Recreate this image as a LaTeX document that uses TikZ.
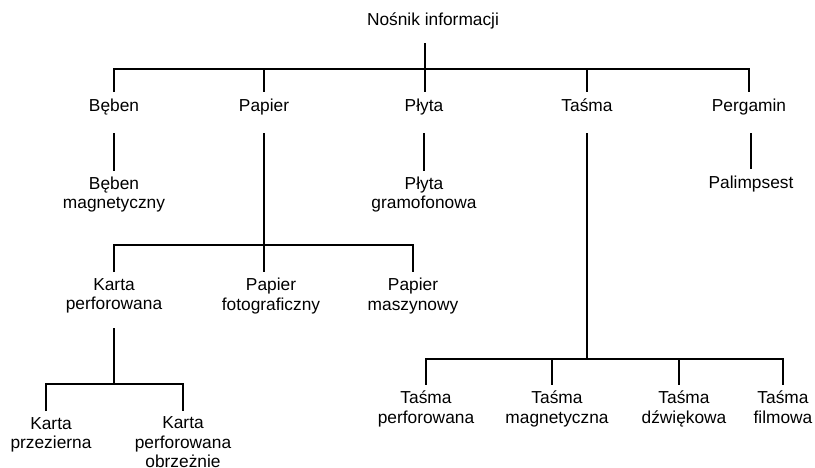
\documentclass[tikz,border=0pt]{standalone}
\usepackage{fontspec}
\setmainfont{Liberation Sans}
\begin{document}
\begin{tikzpicture}[x=0.75pt,y=-0.75pt,
  lbl/.style={inner xsep=0pt, inner ysep=4.5pt, align=center,
    font=\fontsize{13pt}{14.5pt}\selectfont,
    execute at begin node=\strut, execute at end node=\strut},
  link/.style={line width=2.1pt, line join=miter}]
\useasboundingbox (0,0) rectangle (815,468);
\clip (0,0) rectangle (815,468);

% labels
\node[lbl] (root) at (433,22) {Nośnik informacji};
\node[lbl] (beben) at (114,108) {Bęben};
\node[lbl] (papier) at (264,108) {Papier};
\node[lbl] (plyta) at (424,108) {Płyta};
\node[lbl] (tasma) at (587,108) {Taśma};
\node[lbl] (pergamin) at (749,108) {Pergamin};
\node[lbl] (bebenmag) at (114,195.7) {Bęben\\magnetyczny};
\node[lbl] (gramofon) at (424,195.7) {Płyta\\gramofonowa};
\node[lbl] (palimpsest) at (751,185) {Palimpsest};
\node[lbl] (kartaperf) at (114,297) {Karta\\perforowana};
\node[lbl] (foto) at (271,297) {Papier\\fotograficzny};
\node[lbl] (maszyn) at (413,297) {Papier\\maszynowy};
\node[lbl] (przez) at (51,436) {Karta\\przezierna};
\node[lbl] (obrzez) at (183,445) {Karta\\perforowana\\obrzeżnie};
\node[lbl] (tperf) at (426,410) {Taśma\\perforowana};
\node[lbl] (tmag) at (557,410) {Taśma\\magnetyczna};
\node[lbl] (tdzw) at (684,410) {Taśma\\dźwiękowa};
\node[lbl] (tfilm) at (783,410) {Taśma\\filmowa};

% fork points on the bars
\coordinate (f0) at (425,69);
\coordinate (f1) at (264,245);
\coordinate (f2) at (114,384);
\coordinate (dprz) at (46,384);
\coordinate (f3) at (586,359);
\coordinate (dmag) at (552,359);
\coordinate (ddzw) at (679,359);

% first level
\draw[link] (beben.north) -- (beben.north |- f0) -- (pergamin.north |- f0) -- (pergamin.north);
\draw[link, shorten <=4pt] (root.south -| f0) -- (f0 |- plyta.north);
\draw[link] (papier.north |- f0) -- (papier.north);
\draw[link] (tasma.north |- f0) -- (tasma.north);

% single children
\draw[link, shorten <=7pt] (beben.south) -- (bebenmag.north);
\draw[link, shorten <=7pt] (plyta.south) -- (gramofon.north);
\draw[link, shorten <=7pt] (pergamin.south -| palimpsest.north) -- (palimpsest.north);

% paper
\draw[link, shorten <=7pt] (papier.south) -- (f1) -- (f1 |- foto.north);
\draw[link] (kartaperf.north) -- (kartaperf.north |- f1) -- (maszyn.north |- f1) -- (maszyn.north);

% punched card
\draw[link, shorten <=5pt] (kartaperf.south) -- (f2);
\draw[link] (dprz |- przez.north) -- (dprz) -- (obrzez.north |- f2) -- (obrzez.north);

% tape
\draw[link, shorten <=7pt] (tasma.south) -- (tasma.south |- f3);
\draw[link] (tperf.north) -- (tperf.north |- f3) -- (tfilm.north |- f3) -- (tfilm.north);
\draw[link] (dmag) -- (dmag |- tmag.north);
\draw[link] (ddzw) -- (ddzw |- tdzw.north);
\end{tikzpicture}
\end{document}
